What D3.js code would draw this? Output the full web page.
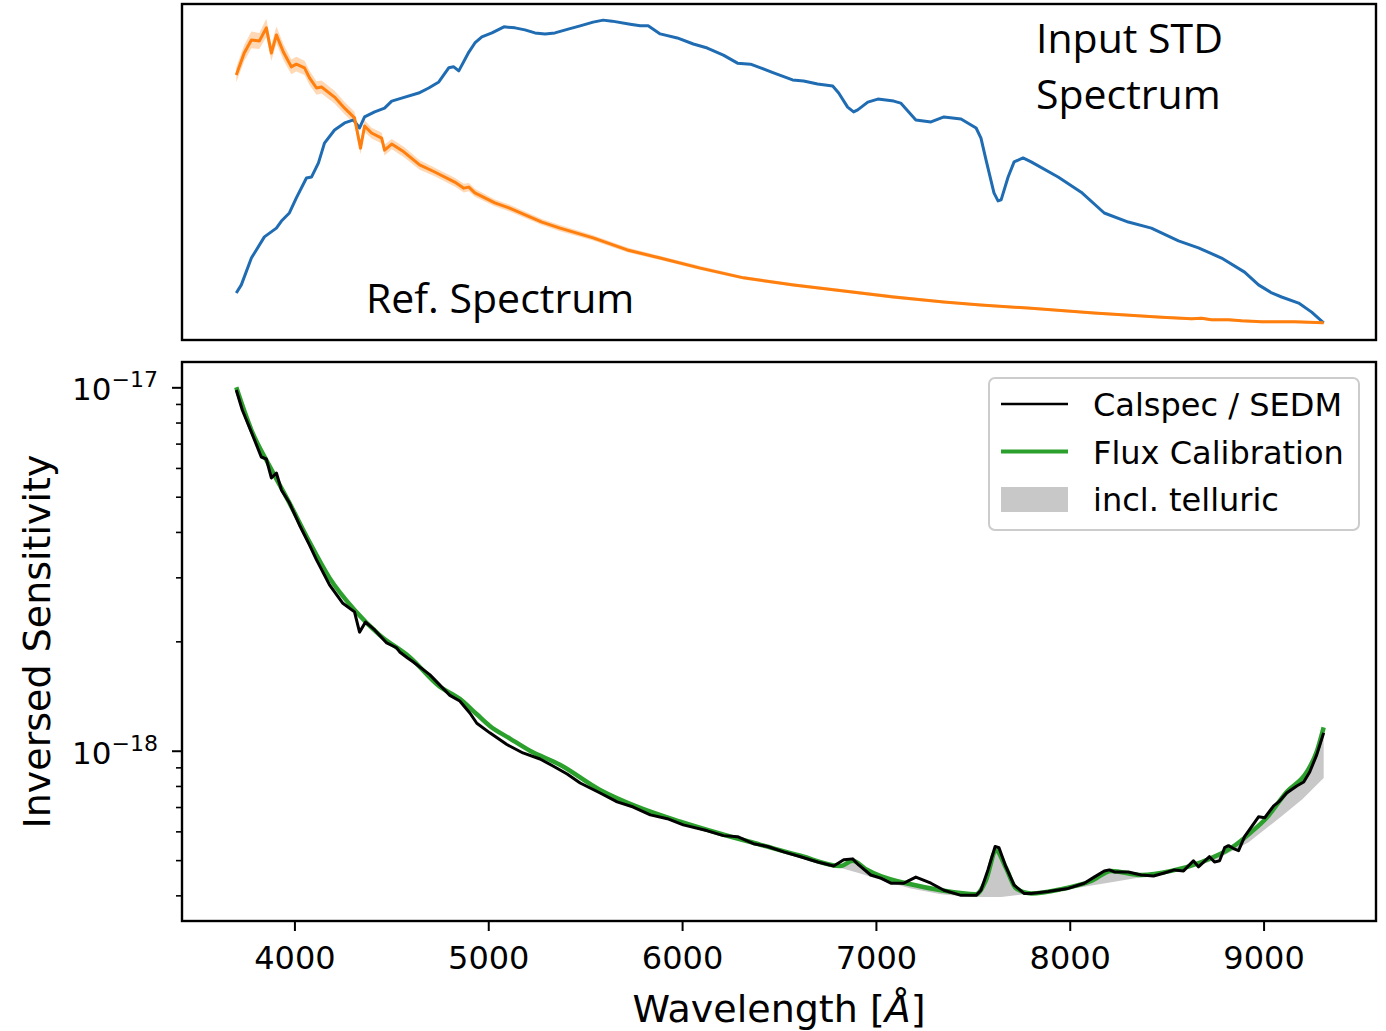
<!DOCTYPE html>
<html>
<head>
<meta charset="utf-8">
<script src="https://cdn.jsdelivr.net/npm/d3@7"></script>
<style>
body{margin:0;background:#fff;}
</style>
</head>
<body>
<div id="chart"></div>
<script>
// top panel : input standard star spectrum and calspec reference (normalised flux)
var inputWl = [3700,3726,3778,3845,3907,3933,3974,4010,4062,4088,4124,4155,4207,4259,4305,4336,4362,4414,4465,4502,4553,4641,4693,4745,4796,4822,4848,4900,4931,4967,5019,5081,5138,5189,5241,5293,5344,5417,5474,5541,5593,5639,5732,5784,5825,5887,5975,6058,6130,6213,6286,6353,6405,6472,6570,6627,6699,6777,6808,6854,6885,6906,6958,7010,7092,7128,7206,7284,7351,7439,7517,7542,7568,7609,7630,7646,7682,7713,7759,7801,7940,8059,8178,8302,8421,8561,8664,8783,8902,8974,9042,9093,9181,9248,9310];
var inputFlux = [0.140,0.164,0.244,0.307,0.333,0.354,0.378,0.423,0.482,0.485,0.527,0.586,0.625,0.646,0.655,0.631,0.664,0.679,0.690,0.711,0.720,0.735,0.750,0.768,0.810,0.813,0.801,0.857,0.884,0.902,0.914,0.932,0.929,0.923,0.914,0.911,0.914,0.926,0.935,0.946,0.952,0.949,0.940,0.935,0.935,0.911,0.899,0.881,0.869,0.848,0.824,0.821,0.810,0.795,0.774,0.771,0.762,0.756,0.735,0.693,0.679,0.685,0.708,0.717,0.711,0.705,0.655,0.649,0.664,0.658,0.631,0.601,0.536,0.438,0.414,0.417,0.485,0.530,0.542,0.530,0.485,0.440,0.378,0.351,0.333,0.295,0.274,0.244,0.202,0.164,0.140,0.128,0.110,0.083,0.051];

var refWl = [3700,3741,3778,3819,3855,3881,3907,3943,3984,4010,4052,4078,4114,4140,4207,4259,4310,4341,4362,4398,4450,4465,4502,4564,4646,4724,4827,4874,4900,4931,5034,5107,5277,5370,5541,5717,5887,6094,6317,6575,6834,7092,7351,7542,7785,8126,8473,8628,8680,8731,8819,8887,8990,9161,9310];
var refFlux = [0.789,0.854,0.893,0.890,0.929,0.854,0.908,0.857,0.813,0.821,0.810,0.780,0.750,0.753,0.723,0.690,0.661,0.571,0.637,0.616,0.601,0.565,0.583,0.560,0.521,0.500,0.470,0.452,0.455,0.438,0.408,0.393,0.351,0.333,0.304,0.268,0.244,0.214,0.185,0.164,0.146,0.128,0.113,0.104,0.095,0.080,0.068,0.063,0.065,0.060,0.060,0.057,0.054,0.054,0.051];
var refErr = [0.022,0.024,0.025,0.024,0.027,0.024,0.025,0.024,0.022,0.022,0.021,0.021,0.020,0.019,0.019,0.018,0.018,0.018,0.017,0.016,0.016,0.016,0.015,0.015,0.014,0.013,0.013,0.013,0.012,0.012,0.010,0.010,0.009,0.009,0.008,0.007,0.006,0.006,0.005,0.005,0.005,0.005,0.004,0.004,0.004,0.004,0.004,0.004,0.004,0.004,0.004,0.004,0.004,0.004,0.004];

// bottom panel : inversed sensitivity, in units of 1e-18
var sedmWl = [3700,3731,3778,3829,3855,3881,3907,3933,3974,4026,4078,4114,4181,4248,4310,4336,4367,4414,4476,4527,4543,4584,4610,4698,4802,4853,4905,4941,5008,5096,5179,5267,5334,5407,5474,5577,5665,5748,5836,5924,6006,6131,6213,6286,6368,6441,6524,6611,6699,6782,6834,6880,6911,6973,7025,7077,7144,7206,7284,7351,7439,7517,7542,7578,7615,7635,7671,7713,7764,7801,7889,7992,8075,8126,8178,8204,8230,8302,8369,8432,8488,8540,8587,8638,8664,8721,8747,8773,8799,8819,8845,8871,8902,8974,9006,9052,9078,9119,9171,9207,9238,9274,9310];
var sedmRatio = [9.83,8.66,7.53,6.43,6.35,5.63,5.81,5.22,4.81,4.18,3.68,3.35,2.86,2.55,2.41,2.12,2.26,2.15,1.98,1.92,1.87,1.80,1.76,1.62,1.42,1.37,1.27,1.19,1.12,1.04,0.986,0.949,0.908,0.863,0.815,0.765,0.723,0.700,0.666,0.650,0.625,0.602,0.584,0.580,0.555,0.545,0.527,0.511,0.494,0.482,0.501,0.504,0.485,0.455,0.446,0.432,0.432,0.449,0.432,0.413,0.400,0.400,0.413,0.470,0.545,0.541,0.479,0.427,0.405,0.405,0.410,0.418,0.432,0.449,0.467,0.470,0.464,0.464,0.455,0.452,0.461,0.470,0.467,0.498,0.479,0.511,0.494,0.498,0.541,0.548,0.538,0.531,0.580,0.658,0.654,0.705,0.723,0.765,0.800,0.820,0.874,0.974,1.12];

var fluxWl = [3700,3778,3871,3974,4078,4181,4310,4440,4595,4750,4853,4941,5008,5112,5215,5370,5577,5784,5991,6198,6405,6611,6818,6880,6946,7025,7180,7336,7517,7568,7620,7671,7723,7801,7956,8111,8215,8369,8524,8680,8835,8938,9016,9119,9223,9274,9310];
var fluxCal = [10.0,7.63,6.08,4.81,3.75,2.99,2.44,2.08,1.81,1.50,1.39,1.26,1.17,1.08,1.00,0.915,0.780,0.696,0.638,0.591,0.551,0.514,0.482,0.498,0.473,0.452,0.429,0.413,0.403,0.441,0.531,0.476,0.418,0.405,0.416,0.438,0.467,0.455,0.467,0.494,0.541,0.598,0.654,0.770,0.874,0.993,1.16];

// same calibration without telluric absorption (lower edge of the grey band)
var contWl = [6611,6782,6911,7025,7180,7336,7490,7646,7764,7900,8059,8230,8406,8576,8747,8923,9093,9200,9310];
var contLevel = [0.514,0.482,0.461,0.441,0.418,0.403,0.396,0.396,0.403,0.410,0.421,0.436,0.452,0.470,0.500,0.560,0.660,0.735,0.841];

var xTicks = [4000,5000,6000,7000,8000,9000];
var yMajor = [1,10];
var yMajorLabels = ["\u221218","\u221217"];
var yMinor = [0.4,0.5,0.6,0.7,0.8,0.9,2,3,4,5,6,7,8,9];
var legendNames = ["Calspec / SEDM","Flux Calibration","incl. telluric"];

var svgWidth = 1386, svgHeight = 1031;
var svg = d3.select("#chart").append("svg")
    .attr("width", svgWidth)
    .attr("height", svgHeight)
    .style("font-family", "'DejaVu Sans', sans-serif");

var upBox = {left:182, right:1376, top:4, bottom:340};
var lowBox = {left:182, right:1376, top:362, bottom:921};

var x = d3.scaleLinear().domain([3420, 9580]).range([lowBox.left, lowBox.right]);
var yTop = d3.scaleLinear().domain([0, 1]).range([upBox.bottom, upBox.top]);
var yBot = d3.scaleLog().domain([0.340, 11.74]).range([lowBox.bottom, lowBox.top]);

function pairs(a, b){ return a.map(function(v,i){ return [v, b[i]]; }); }

var inputData = pairs(inputWl, inputFlux);
var refData = refWl.map(function(v,i){ return {wl:v, f:refFlux[i], e:refErr[i]}; });
var sedmData = pairs(sedmWl, sedmRatio);
var fluxData = pairs(fluxWl, fluxCal);
var contData = pairs(contWl, contLevel);

// ---------- top panel
var gTop = svg.append("g");

gTop.append("path")
    .datum(refData)
    .attr("fill", "#ff7f0e")
    .attr("fill-opacity", 0.3)
    .attr("d", d3.area()
        .x(function(d){ return x(d.wl); })
        .y0(function(d){ return yTop(d.f - d.e); })
        .y1(function(d){ return yTop(d.f + d.e); }));

gTop.append("path")
    .datum(inputData)
    .attr("fill", "none")
    .attr("stroke", "#1f6cb2")
    .attr("stroke-width", 3)
    .attr("stroke-linejoin", "round")
    .attr("d", d3.line().x(function(d){ return x(d[0]); }).y(function(d){ return yTop(d[1]); }));

gTop.append("path")
    .datum(refData)
    .attr("fill", "none")
    .attr("stroke", "#ff7f0e")
    .attr("stroke-width", 3)
    .attr("stroke-linejoin", "round")
    .attr("d", d3.line().x(function(d){ return x(d.wl); }).y(function(d){ return yTop(d.f); }));

gTop.append("rect")
    .attr("x", upBox.left).attr("y", upBox.top)
    .attr("width", upBox.right - upBox.left).attr("height", upBox.bottom - upBox.top)
    .attr("fill", "none").attr("stroke", "#000").attr("stroke-width", 2.4);

var topText = gTop.append("g")
    .style("font-family", "'Open Sans', sans-serif")
    .style("font-size", "41px")
    .attr("fill", "#000");
topText.append("text").attr("x", 1036).attr("y", 53).text("Input STD");
topText.append("text").attr("x", 1036).attr("y", 109).text("Spectrum");
topText.append("text").attr("x", 366).attr("y", 313).text("Ref. Spectrum");

// ---------- bottom panel
var gBot = svg.append("g");

// grey telluric band : flux calibration above, telluric-free continuum below
var bandTop = fluxData.filter(function(d){ return d[0] >= contWl[0]; });
var bandPts = bandTop.concat(contData.slice().reverse());
gBot.append("path")
    .datum(bandPts)
    .attr("fill", "#c8c8c8")
    .attr("stroke", "none")
    .attr("d", d3.line().x(function(d){ return x(d[0]); }).y(function(d){ return yBot(d[1]); }).curve(d3.curveLinearClosed));

gBot.append("path")
    .datum(fluxData)
    .attr("fill", "none")
    .attr("stroke", "#2ca02c")
    .attr("stroke-width", 4.5)
    .attr("d", d3.line().x(function(d){ return x(d[0]); }).y(function(d){ return yBot(d[1]); }).curve(d3.curveMonotoneX));

gBot.append("path")
    .datum(sedmData)
    .attr("fill", "none")
    .attr("stroke", "#000")
    .attr("stroke-width", 3)
    .attr("stroke-linejoin", "round")
    .attr("d", d3.line().x(function(d){ return x(d[0]); }).y(function(d){ return yBot(d[1]); }));

// x axis
var xAxis = gBot.append("g")
    .attr("transform", "translate(0," + lowBox.bottom + ")")
    .call(d3.axisBottom(x).tickValues(xTicks).tickSize(10).tickPadding(15).tickFormat(d3.format("d")));
xAxis.select(".domain").remove();
xAxis.selectAll("line").attr("stroke-width", 2);
xAxis.selectAll("text").style("font-size", "32px").style("font-family", "'DejaVu Sans', sans-serif").attr("fill", "#000");

// y axis minor + major
var yMinorAxis = gBot.append("g")
    .attr("transform", "translate(" + lowBox.left + ",0)")
    .call(d3.axisLeft(yBot).tickValues(yMinor).tickSize(6).tickFormat(""));
yMinorAxis.select(".domain").remove();
yMinorAxis.selectAll("line").attr("stroke-width", 1.6);

var yMajorAxis = gBot.append("g")
    .attr("transform", "translate(" + lowBox.left + ",0)")
    .call(d3.axisLeft(yBot).tickValues(yMajor).tickSize(10).tickFormat(""));
yMajorAxis.select(".domain").remove();
yMajorAxis.selectAll("line").attr("stroke-width", 2);

var yLab = gBot.selectAll(".ylab").data(yMajor).enter().append("text")
    .attr("class", "ylab")
    .attr("x", 158)
    .attr("y", function(d){ return yBot(d) + 13; })
    .attr("text-anchor", "end")
    .style("font-size", "31px");
yLab.append("tspan").text("10");
yLab.append("tspan").attr("dy", -13).style("font-size", "22px").text(function(d,i){ return yMajorLabels[i]; });

gBot.append("rect")
    .attr("x", lowBox.left).attr("y", lowBox.top)
    .attr("width", lowBox.right - lowBox.left).attr("height", lowBox.bottom - lowBox.top)
    .attr("fill", "none").attr("stroke", "#000").attr("stroke-width", 2.4);

// axis labels
var xl = svg.append("text")
    .attr("x", (lowBox.left + lowBox.right) / 2)
    .attr("y", 1022)
    .attr("text-anchor", "middle")
    .style("font-size", "38px");
xl.append("tspan").text("Wavelength [");
xl.append("tspan").style("font-style", "italic").text("\u00c5");
xl.append("tspan").text("]");

svg.append("text")
    .attr("transform", "translate(50," + ((lowBox.top + lowBox.bottom) / 2) + ") rotate(-90)")
    .attr("text-anchor", "middle")
    .style("font-size", "38px")
    .text("Inversed Sensitivity");

// legend
var legend = svg.append("g");
legend.append("rect")
    .attr("x", 989).attr("y", 378).attr("width", 370).attr("height", 152)
    .attr("rx", 6)
    .attr("fill", "#fff").attr("fill-opacity", 0.8)
    .attr("stroke", "#cccccc").attr("stroke-width", 2);

var legItems = legend.selectAll(".leg").data(legendNames).enter().append("g")
    .attr("class", "leg")
    .attr("transform", function(d,i){ return "translate(0," + (404 + i * 47.5) + ")"; });

legItems.each(function(d,i){
    var g = d3.select(this);
    if (i < 2) {
        g.append("line").attr("x1", 1001).attr("x2", 1068).attr("y1", 0).attr("y2", 0)
            .attr("stroke", i == 0 ? "#000" : "#2ca02c")
            .attr("stroke-width", i == 0 ? 2.5 : 4);
    } else {
        g.append("rect").attr("x", 1001).attr("y", -12).attr("width", 67).attr("height", 25)
            .attr("fill", "#c8c8c8");
    }
    g.append("text").attr("x", 1093).attr("y", 12).style("font-size", "32px").text(d);
});
</script>
</body>
</html>
